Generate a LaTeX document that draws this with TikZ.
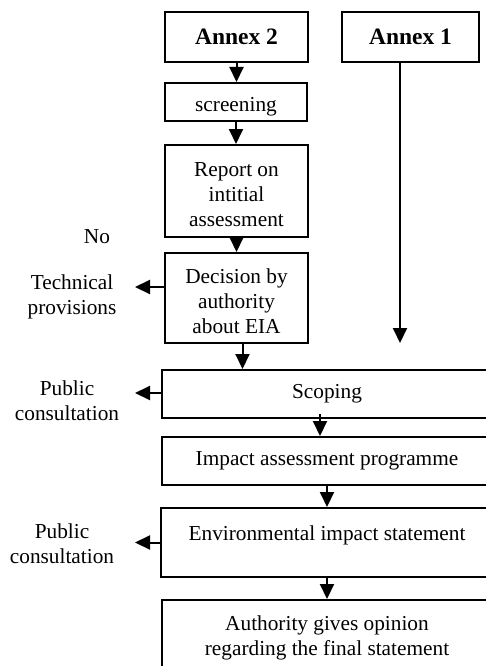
\documentclass[tikz,border=0pt]{standalone}
\usepackage{fontspec}
\setmainfont{Liberation Serif}
\usetikzlibrary{arrows.meta,calc}
\begin{document}
\begin{tikzpicture}[x=1pt,y=-1pt,
  txt/.style={inner sep=0pt,align=center,font=\fontsize{21.3}{25}\selectfont},
  box/.style={txt,draw,line width=2pt},
  headbox/.style={box,font=\fontsize{23.5}{27}\selectfont\bfseries},
  arr/.style={line width=2pt,-{Triangle[width=14pt,length=15pt]}}]
\useasboundingbox (0,0) rectangle (486,666);
\clip (0,0) rectangle (486,666);

% left column: annex 2 route
\node[headbox,minimum width=143pt,minimum height=50pt] (annexb) at (236.5,37) {Annex 2};
\node[box,minimum width=142pt,minimum height=38pt,text height=22pt,text depth=3pt] (screening) at (236,102) {screening};
\node[box,minimum width=143pt,minimum height=92pt] (report) at (236.5,191) {\rule{0pt}{21pt}Report on\\intitial\\assessment};
\node[box,minimum width=143pt,minimum height=90pt] (decision) at (236.5,298) {\rule{0pt}{22pt}Decision by\\authority\\about EIA};

% right column: annex 1 route
\node[headbox,minimum width=137pt,minimum height=50pt] (annexa) at (410.5,37) {Annex 1};

% common steps
\node[box,minimum width=330pt,minimum height=48pt] (scoping) at (327,394) {Scoping};
\node[box,minimum width=330pt,minimum height=48pt] (impact) at (327,461) {Impact assessment programme};
\node[box,minimum width=332pt,minimum height=69pt,text height=14pt,text depth=19pt] (env) at (327,542.5) {Environmental impact statement};
\node[box,minimum width=330pt,minimum height=75pt] (authority) at (327,637.5) {Authority gives opinion\\regarding the final statement};

% side labels
\node[txt] (no) at (97,237) {No};
\node[txt] (tech) at (72,297) {Technical\\provisions};
\node[txt] (pubA) at (67,401) {Public\\consultation};
\node[txt] (pubB) at (62,544) {Public\\consultation};

% vertical flow
\draw[arr] (annexb.south) -- (annexb.south |- screening.north);
\draw[arr] (screening.south) -- (screening.south |- report.north);
\draw[arr] (report.south) -- (report.south |- decision.north);
\coordinate (d1) at ($(decision.south)+(6,0)$);
\draw[arr] (d1) -- (d1 |- scoping.north);
\coordinate (s1) at ($(scoping.south)+(-7,-5)$);
\draw[arr] (s1) -- (s1 |- impact.north);
\draw[arr] (impact.south) -- (impact.south |- env.north);
\draw[arr] (env.south) -- (env.south |- authority.north);

\coordinate (a1) at ($(annexa.south)+(-10.5,0)$);
\coordinate (a1end) at (400,343);
\draw[arr] (a1) -- (a1end);

% side branches
\coordinate (t1) at ($(decision.west)+(0,-11)$);
\coordinate (t1e) at (135,287);
\draw[arr] (t1) -- (t1e);
\coordinate (p1) at ($(scoping.west)+(0,-1)$);
\coordinate (p1e) at (135,393);
\draw[arr] (p1) -- (p1e);
\coordinate (p2) at (env.west);
\coordinate (p2e) at (135,542.5);
\draw[arr] (p2) -- (p2e);
\end{tikzpicture}
\end{document}
